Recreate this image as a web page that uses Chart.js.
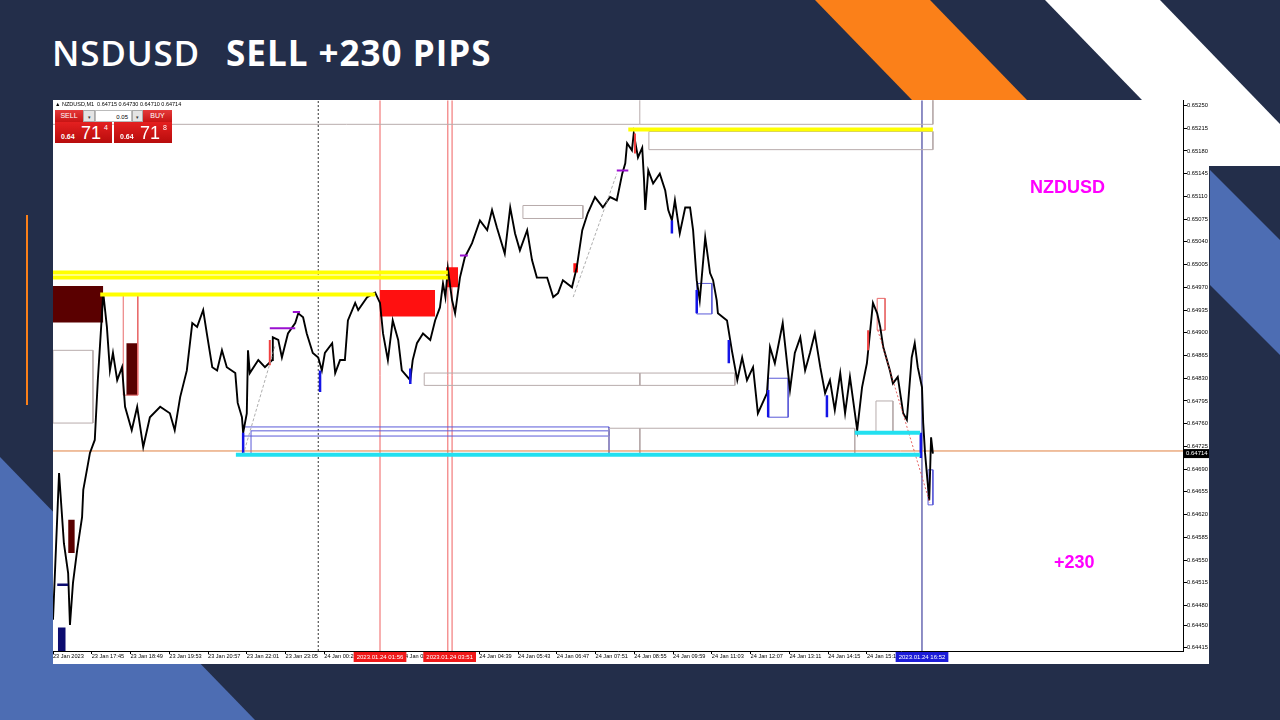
<!DOCTYPE html>
<html><head><meta charset="utf-8">
<script src="https://cdn.jsdelivr.net/npm/chart.js@4.4.0/dist/chart.umd.min.js"></script>
<style>
html,body{margin:0;padding:0;width:1280px;height:720px;overflow:hidden;background:#232e4a;font-family:"Liberation Sans",Arial,sans-serif;}
#bg{position:absolute;left:0;top:0;}
.title{position:absolute;top:35px;color:#fff;font-family:"Open Sans",sans-serif;font-size:35px;line-height:35px;white-space:nowrap;}
#panel{position:absolute;left:53px;top:100px;width:1156px;height:564px;background:#fff;}
#panel canvas{position:absolute;left:0;top:0;}
.ov{position:absolute;white-space:nowrap;}
.info{left:2px;top:1px;font-size:5.5px;color:#000;}
.btn{top:10px;height:12px;font-size:7px;line-height:12px;text-align:center;}
.red{background:linear-gradient(#e43a3a,#c81414);color:#fff;}
.gry{background:#e4e4e4;border:1px solid #aaa;box-sizing:border-box;color:#333;font-size:5px;}
.pbox{top:22px;height:21px;background:linear-gradient(#e42020,#b80c0c);color:#fff;}
.pbox .s{position:absolute;left:6px;top:11px;font-size:7px;font-weight:bold;}
.pbox .b{position:absolute;left:26px;top:1px;font-size:18px;line-height:20px;}
.pbox .u{position:absolute;left:49px;top:2px;font-size:7px;}
.mag{color:#ff00ff;font-weight:bold;font-size:18px;line-height:18px;}
</style></head>
<body>
<svg id="bg" width="1280" height="720">
  <polygon points="815,0 930,0 1027,100 912,100" fill="#fb8019"/>
  <polygon points="1045,0 1160,0 1280,124 1280,166 1206,166" fill="#ffffff"/>
  <polygon points="1210,170 1280,240 1280,355 1210,285" fill="#4d6db3"/>
  <polygon points="0,457 0,720 255,720" fill="#4d6db3"/>
  <rect x="26" y="215" width="2" height="190" fill="#fb8019"/>
</svg>
<div class="title" style="left:52px;font-weight:600;letter-spacing:0.8px;">NSDUSD</div>
<div class="title" style="left:226px;font-weight:700;letter-spacing:1px;">SELL +230 PIPS</div>
<div id="panel">
  <canvas id="c" width="1156" height="564"></canvas>
  <div class="ov info">▲ NZDUSD,M1&nbsp; 0.64715 0.64730 0.64710 0.64714</div>
  <div class="ov btn red" style="left:2px;width:28px;">SELL</div>
  <div class="ov btn gry" style="left:30px;width:12px;">▾</div>
  <div class="ov btn" style="left:42px;width:37px;border:1px solid #bbb;box-sizing:border-box;text-align:right;padding-right:3px;font-size:6px;background:#fff;color:#000;">0.05</div>
  <div class="ov btn gry" style="left:79px;width:11px;">▾</div>
  <div class="ov btn red" style="left:90px;width:29px;">BUY</div>
  <div class="ov pbox" style="left:2px;width:57px;"><span class="s">0.64</span><span class="b">71</span><span class="u">4</span></div>
  <div class="ov pbox" style="left:61px;width:58px;"><span class="s">0.64</span><span class="b">71</span><span class="u">8</span></div>
  <div class="ov mag" style="left:977px;top:78px;">NZDUSD</div>
  <div class="ov mag" style="left:1001px;top:453px;">+230</div>
</div>
<script>
// ---------- data ----------
const xTickLabels = ['23 Jan 2023','23 Jan 17:45','23 Jan 18:49','23 Jan 19:53','23 Jan 20:57','23 Jan 22:01','23 Jan 23:05','24 Jan 00:23','24 Jan 01:27','24 Jan 02:31','24 Jan 03:35','24 Jan 04:39','24 Jan 05:43','24 Jan 06:47','24 Jan 07:51','24 Jan 08:55','24 Jan 09:59','24 Jan 11:03','24 Jan 12:07','24 Jan 13:11','24 Jan 14:15','24 Jan 15:19'];
const BARS_PER_LABEL = 64;
const yTickValues = [0.65250,0.65215,0.65180,0.65145,0.65110,0.65075,0.65040,0.65005,0.64970,0.64935,0.64900,0.64865,0.64830,0.64795,0.64760,0.64725,0.64690,0.64655,0.64620,0.64585,0.64550,0.64515,0.64480,0.64450,0.64415];
const X_MAX = 1866, Y_MIN = 0.64410, Y_MAX = 0.65258;
const bidPrice = 0.64714, askPrice = 0.64718;

const priceIdx = [0,10,18,25,28,33,40,48,50,56,61,69,74,83,89,94,99,106,114,119,130,139,149,160,177,193,201,210,221,230,238,248,254,263,271,279,287,301,305,312,314,320,322,325,339,350,362,363,372,378,388,400,405,413,419,429,438,444,449,461,466,474,482,487,499,504,519,532,540,545,553,561,570,576,590,594,601,611,623,631,639,644,648,652,659,664,672,680,692,705,717,725,733,746,755,763,771,783,791,799,816,826,834,842,857,865,874,883,895,908,920,931,940,945,948,956,959,966,973,976,978,983,991,1002,1011,1016,1022,1027,1035,1044,1052,1057,1063,1068,1077,1085,1090,1096,1098,1113,1121,1130,1138,1146,1156,1164,1179,1184,1192,1205,1217,1225,1234,1242,1250,1258,1267,1275,1283,1291,1300,1308,1316,1328,1336,1344,1349,1354,1361,1366,1371,1382,1387,1395,1404,1410,1418,1423,1428,1435,1437,1440,1444,1447,1450,1453];
const priceVal = [0.64458,0.64684,0.64576,0.64530,0.64450,0.64515,0.64566,0.64616,0.64658,0.64689,0.64715,0.64735,0.64827,0.64961,0.64909,0.64842,0.64869,0.64827,0.64847,0.64786,0.64750,0.64786,0.64724,0.64770,0.64786,0.64776,0.64750,0.64801,0.64842,0.64915,0.64909,0.64935,0.64899,0.64847,0.64842,0.64873,0.64847,0.64838,0.64792,0.64770,0.64746,0.64776,0.64873,0.64838,0.64858,0.64847,0.64858,0.64893,0.64889,0.64862,0.64899,0.64915,0.64930,0.64924,0.64899,0.64869,0.64862,0.64842,0.64869,0.64884,0.64838,0.64858,0.64858,0.64919,0.64946,0.64935,0.64955,0.64962,0.64946,0.64899,0.64858,0.64919,0.64889,0.64842,0.64827,0.64858,0.64884,0.64899,0.64889,0.64919,0.64939,0.64976,0.64955,0.64999,0.64950,0.64930,0.64985,0.65016,0.65038,0.65073,0.65058,0.65089,0.65062,0.65022,0.65093,0.65053,0.65027,0.65058,0.65012,0.64985,0.64985,0.64955,0.64961,0.64981,0.64970,0.65001,0.65058,0.65084,0.65109,0.65093,0.65109,0.65104,0.65145,0.65161,0.65192,0.65181,0.65207,0.65170,0.65185,0.65135,0.65089,0.65150,0.65130,0.65145,0.65119,0.65089,0.65073,0.65104,0.65053,0.65093,0.65093,0.65058,0.64981,0.64950,0.65047,0.64992,0.64981,0.64950,0.64930,0.64919,0.64873,0.64827,0.64862,0.64827,0.64847,0.64776,0.64807,0.64878,0.64853,0.64915,0.64812,0.64869,0.64893,0.64842,0.64869,0.64899,0.64847,0.64807,0.64827,0.64781,0.64838,0.64776,0.64832,0.64750,0.64816,0.64853,0.64899,0.64946,0.64930,0.64909,0.64878,0.64842,0.64822,0.64832,0.64776,0.64766,0.64862,0.64884,0.64847,0.64816,0.64761,0.64715,0.64673,0.64642,0.64739,0.64714];

// horizontal levels [fromIdx, toIdx, price]
const yellowLevels = [[0,652,0.64993],[0,652,0.64985],[78,532,0.64959],[950,1453,0.65213]];
const cyanLevels = [[302,1432,0.64712],[1324,1432,0.64746]];
const grayLevels = [[0,969,0.65221]];
const navyLevels = [[7,25,0.64512]];
const purpleLevels = [[358,400,0.64907],[396,408,0.64932],[672,685,0.65019],[931,950,0.65150]];
// vertical lines (bar index)
const dottedVerticals = [438];
const redVerticals = [540,652,659];
const navyVerticals = [1435];
// zones [fromIdx, toIdx, topPrice, bottomPrice]
const darkRedZones = [[0,83,0.64972,0.64916],[121,140,0.64884,0.64804],[25,36,0.64612,0.64561]];
const redZones = [[540,631,0.64966,0.64925],[649,669,0.65001,0.64970],[859,867,0.65007,0.64993]];
const navyZones = [[8,21,0.64446,0.64410]];
const redBoxes = [[116,140,0.64958,0.64804],[1361,1374,0.64953,0.64904]];
const grayBoxes = [[0,66,0.64873,0.64761],[776,875,0.65096,0.65076],[969,1453,0.65262,0.65221],[984,1453,0.65210,0.65182],[613,969,0.64838,0.64819],[969,1126,0.64838,0.64819],[918,969,0.64753,0.64712],[969,1324,0.64753,0.64712],[1359,1387,0.64795,0.64746]];
const blueBoxes = [[314,918,0.64755,0.64741],[327,918,0.64749,0.64712],[1181,1214,0.64830,0.64770],[1063,1088,0.64976,0.64929],[1445,1453,0.64689,0.64635]];
// coloured candles [idx, high, low]
const blueCandles = [[314,0.64746,0.64712],[441,0.64842,0.64809],[590,0.64845,0.64821],[1063,0.64966,0.64930],[1116,0.64889,0.64853],[1181,0.64812,0.64770],[1278,0.64804,0.64770],[1433,0.64746,0.64707],[1022,0.65073,0.65053]];
const redCandles = [[358,0.64889,0.64850],[961,0.65207,0.65176],[1346,0.64904,0.64873]];
// trend segments [idx0, price0, idx1, price1]
const grayTrends = [[314,0.64712,367,0.64881],[859,0.64955,931,0.65145]];
const redTrends = [[1362,0.64904,1448,0.64638]];
// time markers
const redMarkerIdx = [540,655];
const redMarkerText = ['2023.01.24 01:56','2023.01.24 03:51'];
const blueMarkerIdx = [1435];
const blueMarkerText = ['2023.01.24 16:52'];

// ---------- datasets ----------
const datasets = [];
const base = {pointRadius:0, pointHoverRadius:0, tension:0, fill:false};
function addLine(pts, color, width, order, dash){
  datasets.push(Object.assign({}, base, {data:pts, borderColor:color, borderWidth:width, order:order, borderDash:dash||[]}));
}
function addFill(r, color, order){
  datasets.push(Object.assign({}, base, {data:[{x:r[0],y:r[2]},{x:r[1],y:r[2]}], borderColor:color, borderWidth:0, backgroundColor:color, fill:{value:r[3]}, order:order}));
}
function addBox(r, color, width, order){
  addLine([{x:r[0],y:r[2]},{x:r[1],y:r[2]},{x:r[1],y:r[3]},{x:r[0],y:r[3]},{x:r[0],y:r[2]}], color, width, order);
}
dottedVerticals.forEach(v=>addLine([{x:v,y:Y_MIN},{x:v,y:Y_MAX}],'#333',1,30,[2,2]));
redVerticals.forEach(v=>addLine([{x:v,y:Y_MIN},{x:v,y:Y_MAX}],'#f06060',1,30));
navyVerticals.forEach(v=>addLine([{x:v,y:Y_MIN},{x:v,y:Y_MAX}],'#1e1e8c',1,30));
darkRedZones.forEach(r=>addFill(r,'#5a0000',25));
redZones.forEach(r=>addFill(r,'#ff1010',25));
navyZones.forEach(r=>addFill(r,'#0c0c70',25));
grayBoxes.forEach(r=>addBox(r,'#b8acac',1,22));
redBoxes.forEach(r=>addBox(r,'#e86a6a',1,22));
blueBoxes.forEach(r=>addBox(r,'#5a5ad8',1,22));
grayLevels.forEach(l=>addLine([{x:l[0],y:l[2]},{x:l[1],y:l[2]}],'#b8acac',1,22));
addLine([{x:0,y:askPrice},{x:X_MAX,y:askPrice}],'#e08040',1,21);
addLine(priceIdx.map((x,i)=>({x:x,y:priceVal[i]})),'#000',1.9,10);
blueCandles.forEach(c=>addLine([{x:c[0],y:c[1]},{x:c[0],y:c[2]}],'#1414e6',2.5,8));
redCandles.forEach(c=>addLine([{x:c[0],y:c[1]},{x:c[0],y:c[2]}],'#f04040',2,8));
navyLevels.forEach(l=>addLine([{x:l[0],y:l[2]},{x:l[1],y:l[2]}],'#0c0c70',2.5,7));
purpleLevels.forEach(l=>addLine([{x:l[0],y:l[2]},{x:l[1],y:l[2]}],'#9a10d0',2,7));
grayTrends.forEach(t=>addLine([{x:t[0],y:t[1]},{x:t[2],y:t[3]}],'#999',0.8,6,[3,2]));
redTrends.forEach(t=>addLine([{x:t[0],y:t[1]},{x:t[2],y:t[3]}],'#e04040',0.8,6,[2,2]));
yellowLevels.forEach(l=>addLine([{x:l[0],y:l[2]},{x:l[1],y:l[2]}],'#ffff00',4,5));
cyanLevels.forEach(l=>addLine([{x:l[0],y:l[2]},{x:l[1],y:l[2]}],'#22e0f0',4,5));

const markerPlugin = {
  id:'markers',
  afterDraw(chart){
    const {ctx, scales:{x, y}} = chart;
    ctx.save();
    ctx.font = '6px "Liberation Sans", Arial';
    ctx.textAlign = 'center';
    ctx.textBaseline = 'middle';
    const draw = (idx, text, color) => {
      const px = x.getPixelForValue(idx);
      const w = ctx.measureText(text).width + 6;
      ctx.fillStyle = color;
      ctx.fillRect(px - w/2, y.bottom + 1, w, 10);
      ctx.fillStyle = '#fff';
      ctx.fillText(text, px, y.bottom + 6);
    };
    redMarkerIdx.forEach((v,i)=>draw(v, redMarkerText[i], '#f01818'));
    blueMarkerIdx.forEach((v,i)=>draw(v, blueMarkerText[i], '#1c1cd8'));
    const py = y.getPixelForValue(bidPrice);
    ctx.fillStyle = '#000';
    ctx.fillRect(x.right + 1, py - 4.5, 26, 9);
    ctx.fillStyle = '#fff';
    ctx.textAlign = 'left';
    ctx.fillText(bidPrice.toFixed(5), x.right + 3, py);
    ctx.restore();
  }
};

new Chart(document.getElementById('c'), {
  type:'line',
  data:{datasets:datasets},
  plugins:[markerPlugin],
  options:{
    responsive:false, animation:false, devicePixelRatio:1, events:[],
    layout:{padding:0},
    plugins:{legend:{display:false}, tooltip:{enabled:false}},
    scales:{
      x:{type:'linear', min:0, max:X_MAX, position:'bottom',
        grid:{display:true, drawOnChartArea:false, drawTicks:true, tickLength:3, color:'#000'},
        border:{display:true, color:'#000', width:1},
        ticks:{align:'start', padding:0, autoSkip:false, maxRotation:0, minRotation:0, color:'#000',
          font:{family:'"Liberation Sans", Arial', size:5.6, lineHeight:1},
          callback:(v,i)=>xTickLabels[i]},
        afterBuildTicks:(s)=>{ s.ticks = xTickLabels.map((_,i)=>({value:i*BARS_PER_LABEL})); },
        afterFit:(s)=>{ s.height = 13; }
      },
      y:{type:'linear', position:'right', min:Y_MIN, max:Y_MAX,
        grid:{display:true, drawOnChartArea:false, drawTicks:true, tickLength:4, color:'#000'},
        border:{display:true, color:'#000', width:1},
        ticks:{padding:0, autoSkip:false, color:'#000',
          font:{family:'"Liberation Sans", Arial', size:5.8, lineHeight:0.1},
          callback:(v,i)=>yTickValues[i].toFixed(5)},
        afterBuildTicks:(s)=>{ s.ticks = yTickValues.map(v=>({value:v})); },
        afterFit:(s)=>{ s.width = 26; }
      }
    }
  }
});
</script>
</body></html>
